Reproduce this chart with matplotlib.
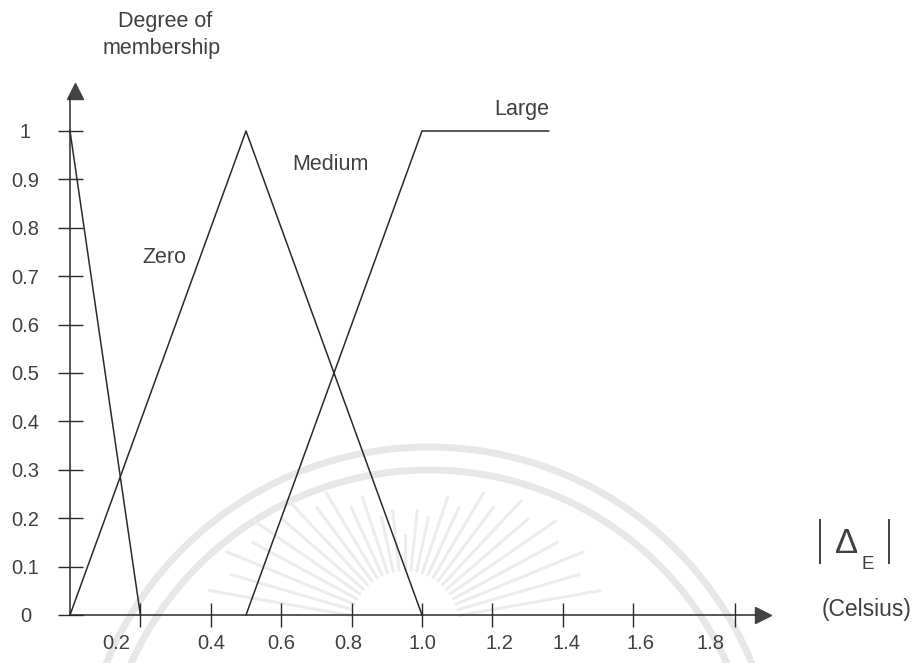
import numpy as np
import matplotlib.pyplot as plt

plt.rcParams['font.family'] = ['Liberation Sans', 'DejaVu Sans']

# membership functions for |delta E| (Celsius)
zero_x = [0.0, 0.2]
zero_y = [1.0, 0.0]
medium_x = [0.0, 0.5, 1.0]
medium_y = [0.0, 1.0, 0.0]
large_x = [0.5, 1.0, 1.36]
large_y = [0.0, 1.0, 1.0]

y_ticks = [0, 0.1, 0.2, 0.3, 0.4, 0.5, 0.6, 0.7, 0.8, 0.9, 1.0]
y_tick_labels = ['0', '0.1', '0.2', '0.3', '0.4', '0.5', '0.6', '0.7', '0.8', '0.9', '1']
x_ticks = [0.2, 0.4, 0.6, 0.8, 1.0, 1.2, 1.4, 1.6, 1.89]
x_label_pos = [0.13, 0.4, 0.6, 0.79, 1.0, 1.22, 1.41, 1.62, 1.82]
x_tick_labels = ['0.2', '0.4', '0.6', '0.8', '1.0', '1.2', '1.4', '1.6', '1.8']

ink = '#2a2a2a'
txt = '#404040'
seal = '#e7e7e7'

fig = plt.figure(figsize=(9.2, 6.63), dpi=100)

# background layer in pixel units: faint seal behind the diagram
bg = fig.add_axes([0, 0, 1, 1])
bg.set_xlim(0, 920)
bg.set_ylim(663, 0)
bg.axis('off')
t = np.radians(np.linspace(15, 165, 300))
for r in (349, 326):
    bg.plot(429 + r * np.cos(t), 796 - r * np.sin(t), color=seal, lw=5,
            solid_capstyle='round')
for i, a in enumerate(np.radians(np.linspace(10, 170, 27))):
    r_out = 105 + 95 * abs(np.cos(a)) - (15 if i % 2 else 0)
    bg.plot([405 + 55 * np.cos(a), 405 + r_out * np.cos(a)],
            [625 - 55 * np.sin(a), 625 - r_out * np.sin(a)],
            color='#ececec', lw=2.2, solid_capstyle='round')

# |delta_E| symbol and unit
bg.plot([820, 820], [520, 563], color=txt, lw=1.4)
bg.plot([889, 889], [520, 563], color=txt, lw=1.4)
bg.text(847, 553, '\u0394', fontsize=25, color=txt, ha='center', va='baseline')
bg.text(868, 569, 'E', fontsize=13.5, color=txt, ha='center', va='baseline')
bg.text(867, 616, '(Celsius)', fontsize=16.5, color=txt, ha='center', va='baseline')

# main diagram
ax = fig.add_axes([0, 0, 1, 1])
ax.patch.set_alpha(0)
ax.set_xlim(-70 / 352, 850 / 352)
ax.set_ylim(-48 / 484, 615 / 484)

ax.plot(zero_x, zero_y, color=ink, lw=1.1)
ax.plot(medium_x, medium_y, color=ink, lw=1.1)
ax.plot(large_x, large_y, color=ink, lw=1.1)

for side in ('top', 'right'):
    ax.spines[side].set_visible(False)
ax.spines['left'].set_position(('data', 0))
ax.spines['bottom'].set_position(('data', 0))
ax.spines['left'].set_bounds(0, 1.07)
ax.spines['bottom'].set_bounds(0, 1.95)
for side in ('left', 'bottom'):
    ax.spines[side].set_color(ink)
    ax.spines[side].set_linewidth(1.1)

# arrow heads
ax.plot(0.015, 1.083, marker='^', ms=11, color='#444444', clip_on=False)
ax.plot(1.97, 0.0, marker='>', ms=11, color='#444444', clip_on=False)

ax.set_yticks(y_ticks)
ax.set_yticklabels(y_tick_labels)
ax.tick_params(axis='y', direction='inout', length=18, width=1, color=ink,
               labelsize=14.5, labelcolor=txt, pad=23)
for lbl in ax.get_yticklabels():
    lbl.set_ha('center')

ax.set_xticks(x_ticks)
ax.set_xticklabels([])
ax.tick_params(axis='x', direction='inout', length=17, width=1, color=ink)
for pos, lab in zip(x_label_pos, x_tick_labels):
    ax.text(pos, -0.058, lab, fontsize=14.5, color=txt, ha='center', va='center')

ax.text(0.205, (615 - 263) / 484, 'Zero', fontsize=15.5, color=txt, va='baseline')
ax.text(0.63, (615 - 170) / 484, 'Medium', fontsize=15.5, color=txt, va='baseline')
ax.text(1.205, (615 - 115) / 484, 'Large', fontsize=15.5, color=txt, va='baseline')
ax.text(0.27, (615 - 27) / 484, 'Degree of', fontsize=15.5, color=txt,
        ha='center', va='baseline')
ax.text(0.26, (615 - 54) / 484, 'membership', fontsize=15.5, color=txt,
        ha='center', va='baseline')

fig.savefig('out.png', dpi=100)
